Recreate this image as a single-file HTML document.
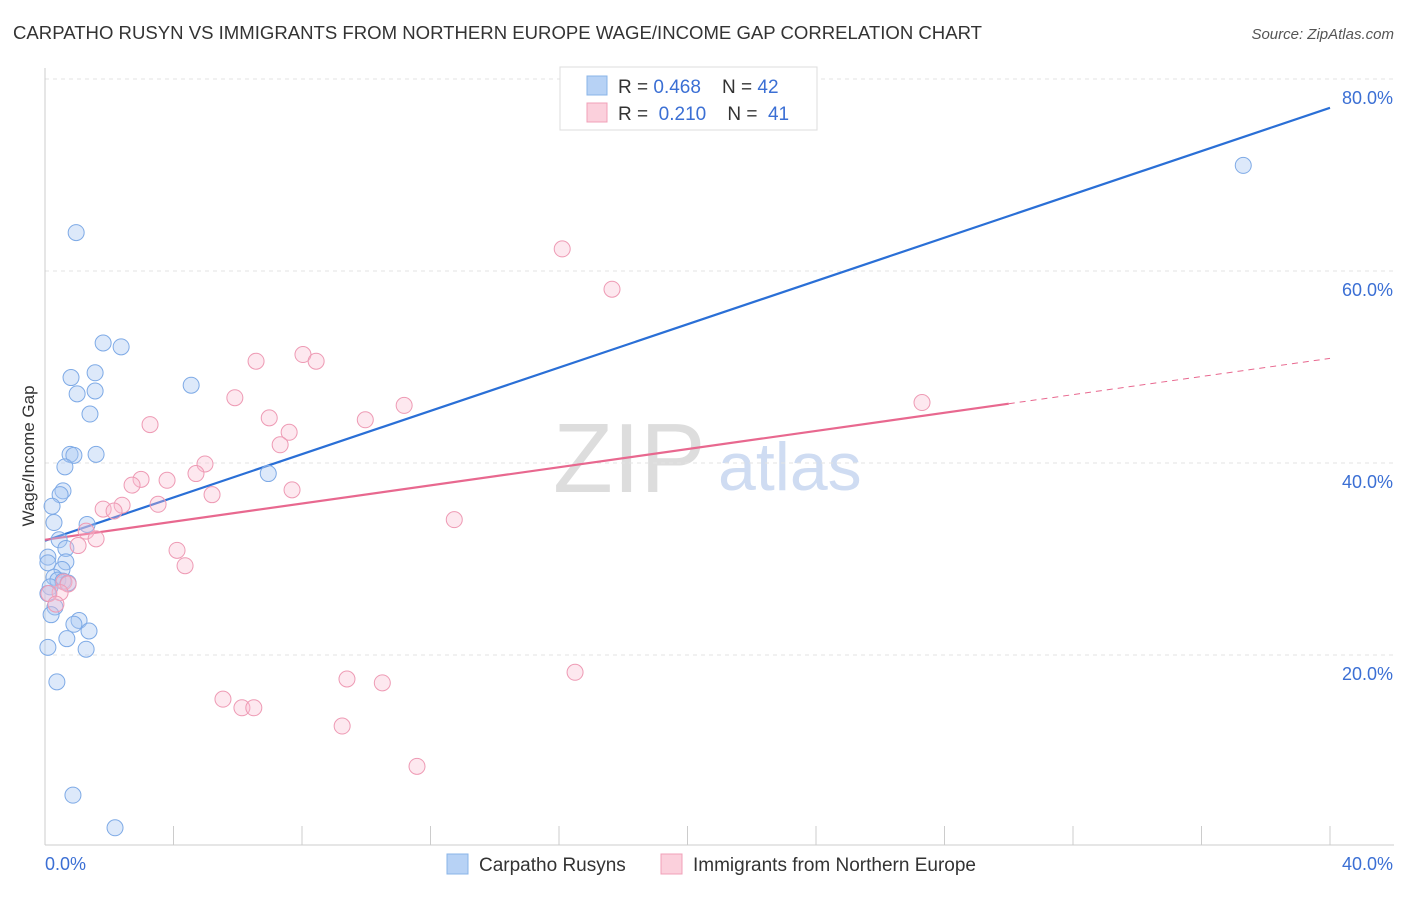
<!DOCTYPE html>
<html><head><meta charset="utf-8"><style>
body{margin:0;background:#fff;font-family:"Liberation Sans",sans-serif;}
svg text{font-family:"Liberation Sans",sans-serif;}
</style></head><body>
<svg id="chart" width="1406" height="892" xmlns="http://www.w3.org/2000/svg">
<text x="13" y="39" font-size="18" fill="#333" textLength="969" lengthAdjust="spacingAndGlyphs">CARPATHO RUSYN VS IMMIGRANTS FROM NORTHERN EUROPE WAGE/INCOME GAP CORRELATION CHART</text>
<text x="1394" y="39" font-size="15" fill="#555" font-style="italic" text-anchor="end">Source: ZipAtlas.com</text>
<text transform="translate(34,456) rotate(-90)" font-size="17" fill="#333" text-anchor="middle">Wage/Income Gap</text>
<g>
<text x="553" y="492" font-size="98" fill="#ddd" font-family="Liberation Serif,serif">ZIP</text>
<text x="718" y="490" font-size="68" fill="#cfdcf2">atlas</text>
</g>
<g id="grid"></g><g id="axes"></g><g id="lines"></g><g id="pts"></g>
<g>
<rect x="560" y="67" width="257" height="63" fill="#fff" stroke="#ddd"/>
<rect x="587" y="76" width="20" height="19" fill="#b7d2f5" stroke="#8ab4e8"/>
<text x="618" y="93" font-size="19" fill="#333" xml:space="preserve">R = <tspan fill="#3b6fd4">0.468</tspan>    N = <tspan fill="#3b6fd4">42</tspan></text>
<rect x="587" y="103" width="20" height="19" fill="#fbd0dc" stroke="#f0a0b8"/>
<text x="618" y="120" font-size="19" fill="#333" xml:space="preserve">R =  <tspan fill="#3b6fd4">0.210</tspan>    N =  <tspan fill="#3b6fd4">41</tspan></text>
</g>
<g>
<rect x="447" y="854" width="21" height="20" fill="#b7d2f5" stroke="#8ab4e8"/>
<text x="479" y="871" font-size="19" fill="#333">Carpatho Rusyns</text>
<rect x="661" y="854" width="21" height="20" fill="#fbd0dc" stroke="#f0a0b8"/>
<text x="693" y="871" font-size="19" fill="#333">Immigrants from Northern Europe</text>
</g>
</svg>
<script>
const blueX=[0.97,1.81,2.37,0.81,1.56,1.0,1.56,1.4,4.55,0.78,0.9,1.59,0.62,6.95,0.56,0.47,0.22,0.28,1.31,0.44,0.65,0.09,0.65,0.09,0.53,0.28,0.4,0.56,0.72,0.16,0.09,0.31,0.19,1.06,0.9,1.37,0.68,0.09,1.28,0.37,0.87,2.18,37.3];
const blueY=[64.0,52.5,52.1,48.9,49.4,47.2,47.5,45.1,48.1,40.9,40.8,40.9,39.6,38.9,37.1,36.7,35.5,33.8,33.6,32.0,31.1,30.2,29.7,29.6,28.9,28.1,27.8,27.7,27.5,27.1,26.4,25.0,24.2,23.6,23.2,22.5,21.7,20.8,20.6,17.2,5.4,2.0,71.0];
const pinkX=[16.1,17.65,6.57,8.03,8.44,5.91,11.18,27.3,6.98,9.97,3.27,7.6,7.32,4.98,4.7,2.99,3.8,2.71,7.69,5.2,3.52,2.4,1.81,2.15,12.74,1.28,1.59,1.03,4.11,4.36,0.59,0.72,0.47,0.12,0.34,16.5,9.4,10.5,5.54,6.13,6.5,9.25,11.58];
const pinkY=[62.3,58.1,50.6,51.3,50.6,46.8,46.0,46.3,44.7,44.5,44.0,43.2,41.9,39.9,38.9,38.3,38.2,37.7,37.2,36.7,35.7,35.6,35.2,35.0,34.1,32.9,32.1,31.4,30.9,29.3,27.6,27.4,26.5,26.4,25.3,18.2,17.5,17.1,15.4,14.5,14.5,12.6,8.4];
const yTicks=[20,40,60,80];
const yTickLabels=["20.0%","40.0%","60.0%","80.0%"];
const xTicks=[0,4,8,12,16,20,24,28,32,36,40];
const blueTrend=[31.9,77.0];
const pinkTrend=[32.0,50.9];
const pinkSolidEnd=30;
const NS="http://www.w3.org/2000/svg";
const sx=v=>45+v*32.125, sy=v=>847-v*9.6;
function mk(tag,attrs,parent){const e=document.createElementNS(NS,tag);for(const k in attrs)e.setAttribute(k,attrs[k]);document.getElementById(parent).appendChild(e);return e;}
yTicks.forEach((t,i)=>{
 const g=mk('line',{x1:45,x2:1394,y1:sy(t),y2:sy(t),stroke:'#e3e3e3','stroke-dasharray':'4,4'},'grid');
 
 
 const l=mk('text',{x:1393,y:sy(t)+25,'font-size':18,fill:'#3b6fd4','text-anchor':'end'},'axes');
 l.textContent=yTickLabels[i];
 
 
});
const ax=mk('line',{x1:45,x2:1394,y1:845,y2:845,stroke:'#ccc'},'axes');


const ay=mk('line',{x1:45,x2:45,y1:68,y2:845,stroke:'#ccc'},'axes');


xTicks.forEach(t=>{const k=mk('line',{x1:sx(t),x2:sx(t),y1:826,y2:845,stroke:'#ccc'},'axes');
 
 });
const x0=mk('text',{x:45,y:870,'font-size':18,fill:'#3b6fd4'},'axes');x0.textContent='0.0%';


const x1=mk('text',{x:1393,y:870,'font-size':18,fill:'#3b6fd4','text-anchor':'end'},'axes');x1.textContent='40.0%';


function dot(x,y,fill,stroke,name){const c=mk('circle',{cx:sx(x),cy:sy(y),r:8,fill:fill,stroke:stroke,'stroke-width':1},'pts');
 
 }
blueX.forEach((x,i)=>dot(x,blueY[i],'rgba(170,200,242,0.4)','#7eaae6','carpatho-rusyn-point'));
pinkX.forEach((x,i)=>dot(x,pinkY[i],'rgba(248,190,208,0.35)','#ee9ab4','northern-europe-point'));
const bl=mk('line',{x1:sx(0),y1:sy(blueTrend[0]),x2:sx(40),y2:sy(blueTrend[1]),stroke:'#2a6fd6','stroke-width':2.2},'lines');


const pAt=x=>pinkTrend[0]+(pinkTrend[1]-pinkTrend[0])*x/40;
const pl=mk('line',{x1:sx(0),y1:sy(pinkTrend[0]),x2:sx(pinkSolidEnd),y2:sy(pAt(pinkSolidEnd)),stroke:'#e8688f','stroke-width':2.2},'lines');


const pd=mk('line',{x1:sx(pinkSolidEnd),y1:sy(pAt(pinkSolidEnd)),x2:sx(40),y2:sy(pinkTrend[1]),stroke:'#e8688f','stroke-width':1,'stroke-dasharray':'6,5'},'lines');


</script>
</body></html>
